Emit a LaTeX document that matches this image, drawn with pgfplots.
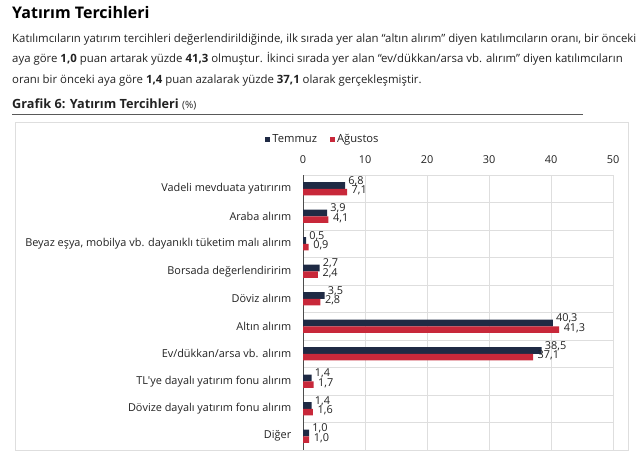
\documentclass[border=0pt]{standalone}
\usepackage{fontspec}
\setmainfont{Open Sans}
\usepackage{pgfplots}
\pgfplotsset{compat=1.18}
\definecolor{navy}{RGB}{31,42,68}
\definecolor{crimson}{RGB}{200,40,58}
\definecolor{gridgray}{RGB}{222,222,222}
\definecolor{txt}{RGB}{34,34,34}
\begin{document}
\begin{tikzpicture}[x=1pt,y=1pt]
\useasboundingbox (0,0) rectangle (640,-455);
\node[anchor=base west,inner sep=0,font=\fontsize{16}{18}\selectfont\bfseries] at (12,-19) {Yatırım Tercihleri};
\begin{scope}[every node/.style={anchor=base west,inner sep=0,text=txt,font=\fontsize{11.4}{13}\selectfont}]
\node at (12,-42) {Katılımcıların yatırım tercihleri değerlendirildiğinde, ilk sırada yer alan “altın alırım” diyen katılımcıların oranı, bir önceki};
\node at (12,-62.5) {aya göre \textbf{1,0} puan artarak yüzde \textbf{41,3} olmuştur. İkinci sırada yer alan “ev/dükkan/arsa vb. alırım” diyen katılımcıların};
\node at (12,-83) {oranı bir önceki aya göre \textbf{1,4} puan azalarak yüzde \textbf{37,1} olarak gerçekleşmiştir.};
\end{scope}
\node[anchor=base west,inner sep=0,text=txt,font=\fontsize{12.7}{14}\selectfont] at (12,-108) {\textbf{Grafik 6: Yatırım Tercihleri} {\fontsize{10}{12}\selectfont(\%)}};
\draw[line width=1pt,gray!70!black] (12,-114) -- (583,-114);
\draw[gridgray] (15,-122.5) rectangle (628,-450);
\begin{axis}[
  at={(303pt,-450pt)}, anchor=south west,
  scale only axis, width=310pt, height=275pt,
  xbar, bar width=6.7pt,
  xmin=0, xmax=50, ymin=-0.5, ymax=9.5, y dir=reverse,
  axis x line*=top, axis y line*=left,
  x axis line style={draw=none},
  y axis line style={gray!60!black},
  xtick={0,10,20,30,40,50}, xticklabels={0,10,20,30,40,50},
  xtick style={draw=none},
  xmajorgrids, major grid style={gridgray},
  xticklabel style={font=\fontsize{10.9}{12}\selectfont, text=txt, yshift=4pt},
  ytick={0,...,9},
  yticklabels={Vadeli mevduata yatırırım, Araba alırım, {Beyaz eşya, mobilya vb. dayanıklı tüketim malı alırım}, Borsada değerlendiririm, Döviz alırım, Altın alırım, Ev/dükkan/arsa vb. alırım, TL\textquotesingle ye dayalı yatırım fonu alırım, Dövize dayalı yatırım fonu alırım, Diğer},
  ytick style={draw=none},
  minor ytick={-0.5,0.5,...,9.5},
  yminorgrids, minor grid style={gridgray},
  minor y tick style={gray!60!black},
  minor tick length=5pt, tick align=outside,
  yticklabel style={font=\fontsize{10.9}{12}\selectfont, text=txt, anchor=east, xshift=-4pt},
  point meta=x,
  nodes near coords,
  every node near coord/.append style={font=\fontsize{10.9}{12}\selectfont, text=txt, anchor=west, inner sep=1pt,
    /pgf/number format/fixed, /pgf/number format/fixed zerofill, /pgf/number format/precision=1,
    /pgf/number format/use comma, /pgf/number format/assume math mode=true},
  legend columns=2,
  legend style={draw=none, fill=none, at={(axis description cs:0.0645,1)}, anchor=center, yshift=35.5pt,
    font=\fontsize{11.2}{12}\selectfont, text=txt, /tikz/every even column/.append style={column sep=11pt}},
  legend image code/.code={\fill[#1] (0pt,-2.5pt) rectangle (5pt,2.5pt);},
]
\addplot[fill=navy, draw=none, bar shift=3.35pt, every node near coord/.append style={yshift=4.5pt, xshift=2pt}] coordinates {
(6.8,0) (3.9,1) (0.5,2) (2.7,3) (3.5,4) (40.3,5) (38.5,6) (1.4,7) (1.4,8) (1.0,9)};
\addplot[fill=crimson, draw=none, bar shift=-3.35pt, every node near coord/.append style={yshift=1.5pt, xshift=3.5pt}] coordinates {
(7.1,0) (4.1,1) (0.9,2) (2.4,3) (2.8,4) (41.3,5) (37.1,6) (1.7,7) (1.6,8) (1.0,9)};
\legend{Temmuz, Ağustos}
\end{axis}
\end{tikzpicture}
\end{document}
